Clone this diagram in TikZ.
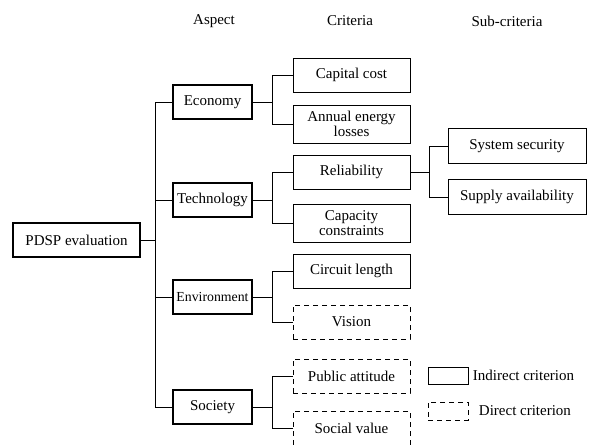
\documentclass[tikz,border=0pt]{standalone}
\usepackage{fontspec}
\setmainfont{Liberation Serif}
\usepackage{tikz}
\usetikzlibrary{positioning,calc}

\tikzset{
  mainbox/.style={draw,line width=1.7pt,inner sep=1pt,minimum height=34pt,align=center},
  critbox/.style={draw,line width=0.8pt,inner sep=1pt,minimum width=117pt,minimum height=34pt,align=center},
  directbox/.style={critbox,dash pattern=on 5pt off 4pt},
  subbox/.style={draw,line width=0.8pt,inner sep=1pt,minimum width=138pt,minimum height=35pt},
  link/.style={line width=0.8pt}
}

\begin{document}
\begin{tikzpicture}[x=1pt,y=-1pt,font=\fontsize{15}{15.5}\selectfont]
\useasboundingbox (0,0) rectangle (590,445);
% column titles
\node at (214,21) {Aspect};
\node at (350,21) {Criteria};
\node at (507,21) {Sub-criteria};
% goal and aspects
\node[mainbox,minimum width=127pt] (root) at (76.5,240) {PDSP evaluation};
\node[mainbox,minimum width=79pt] (eco) at (212.5,102) {Economy};
\node[mainbox,minimum width=79pt] (tech) at (212.5,200) {Technology};
\node[mainbox,minimum width=79pt,inner xsep=0pt,font=\fontsize{13.8}{15}\selectfont] (env) at (212.5,297) {Environment};
\node[mainbox,minimum width=79pt] (soc) at (212.5,407) {Society};
% criteria
\node[critbox] (capcost) at (351.5,75) {Capital cost};
\node[critbox,minimum height=38pt] (losses) at (351.5,124) {Annual energy\\losses};
\node[critbox] (rel) at (351.5,172) {Reliability};
\node[critbox,minimum height=38pt] (capcon) at (351.5,223) {Capacity\\constraints};
\node[critbox] (circ) at (351.5,271) {Circuit length};
\node[directbox] (vis) at (351.5,322) {Vision};
\node[directbox] (pub) at (351.5,376) {Public attitude};
\node[directbox] (socval) at (351.5,428) {Social value};
% sub-criteria
\node[subbox] (sys) at (517,146) {System security};
\node[subbox] (supply) at (517,197) {Supply availability};
% connectors
\foreach \a in {eco,tech,env,soc}
  \draw[link] (root.east) -- ++(15,0) |- (\a.west);
\foreach \a/\b/\c in {eco/capcost/losses,tech/rel/capcon,env/circ/vis,soc/pub/socval}{
  \draw[link] (\a.east) -- ++(20,0) |- (\b.west);
  \draw[link] (\a.east) -- ++(20,0) |- (\c.west);
}
\foreach \b in {sys,supply}
  \draw[link] (rel.east) -- ++(19,0) |- (\b.west);
% legend
\node[draw,line width=0.8pt,minimum width=40pt,minimum height=17pt] (legind) at (448,375.5) {};
\node[right=1pt of legind] {Indirect criterion};
\node[draw,line width=0.8pt,dash pattern=on 5pt off 4pt,minimum width=40pt,minimum height=18pt] (legdir) at (448,411) {};
\node[right=7pt of legdir] {Direct criterion};
\end{tikzpicture}
\end{document}
